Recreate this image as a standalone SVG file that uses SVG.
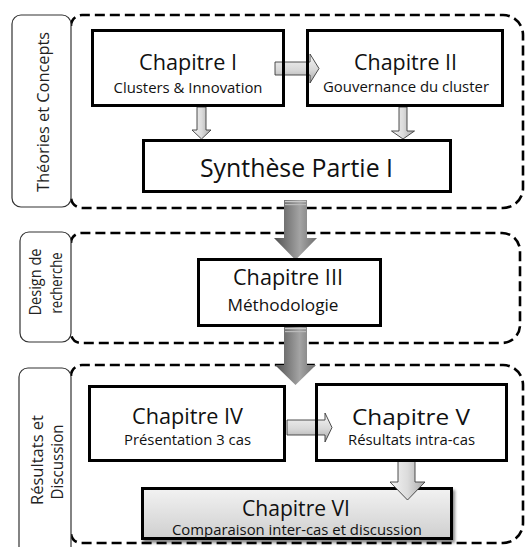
<svg xmlns="http://www.w3.org/2000/svg" width="526" height="547" viewBox="0 0 526 547">
<style>
text { font-family: "Open Sans", "Noto Sans", "DejaVu Sans", sans-serif; fill: #111; }
.t { font-size: 22px; text-anchor: middle; }
.s { font-size: 15px; text-anchor: middle; }
.lab { font-size: 16px; text-anchor: middle; fill: #222; }
.box { fill: none; stroke: #000; stroke-width: 3; }
.grp { fill: none; stroke: #000; stroke-width: 2.6; stroke-dasharray: 10 5; }
.lbox { fill: #fff; stroke: #333; stroke-width: 1.2; }
.sa { stroke: #3a3a3a; stroke-width: 0.9; stroke-linejoin: miter; }
</style>
<defs>
<linearGradient id="gv" x1="0" y1="0" x2="1" y2="0">
<stop offset="0" stop-color="#f4f4f4"/><stop offset="0.5" stop-color="#dcdcdc"/><stop offset="1" stop-color="#a8a8a8"/>
</linearGradient>
<linearGradient id="gh" x1="0" y1="0" x2="0" y2="1">
<stop offset="0" stop-color="#f6f6f6"/><stop offset="0.55" stop-color="#d8d8d8"/><stop offset="1" stop-color="#a5a5a5"/>
</linearGradient>
<linearGradient id="gbig" x1="0" y1="0" x2="1" y2="0">
<stop offset="0" stop-color="#505050"/><stop offset="0.3" stop-color="#7a7a7a"/><stop offset="0.6" stop-color="#a4a4a4"/><stop offset="1" stop-color="#6e6e6e"/>
</linearGradient>
<linearGradient id="gvi" x1="0" y1="0" x2="0" y2="1">
<stop offset="0" stop-color="#f2f2f2"/><stop offset="1" stop-color="#cfcfcf"/>
</linearGradient>
<filter id="sh" x="-10%" y="-20%" width="125%" height="150%">
<feDropShadow dx="2" dy="3" stdDeviation="1.5" flood-color="#000" flood-opacity="0.45"/>
</filter>
</defs>

<g id="group-theories">
<path class="grp" d="M71,26 A11,11 0 0 1 82,15 H503 A20,20 0 0 1 523,35 V188 A20,20 0 0 1 503,208 H82 A11,11 0 0 1 71,197"/>
<rect class="lbox" x="12" y="15" width="59" height="192" rx="9"/>
<text class="lab" transform="translate(49,112) rotate(-90)" textLength="160" lengthAdjust="spacingAndGlyphs">Théories et Concepts</text>
</g>

<g id="group-design">
<path class="grp" d="M71,243 A10,10 0 0 1 81,233 H502 A18,18 0 0 1 520,251 V325 A18,18 0 0 1 502,343 H81 A10,10 0 0 1 71,333"/>
<rect class="lbox" x="20" y="232" width="51" height="110" rx="9"/>
<text class="lab" transform="translate(41,282) rotate(-90)" textLength="67" lengthAdjust="spacingAndGlyphs">Design de</text>
<text class="lab" transform="translate(62,283) rotate(-90)" textLength="61" lengthAdjust="spacingAndGlyphs">recherche</text>
</g>

<g id="group-resultats">
<path class="grp" d="M71,376 A11,11 0 0 1 82,365 H503 A20,20 0 0 1 523,385 V523 A20,20 0 0 1 503,543 H81 A10,10 0 0 1 71,533"/>
<rect class="lbox" x="19" y="368" width="52" height="200" rx="9"/>
<text class="lab" transform="translate(43,460) rotate(-90)" textLength="90" lengthAdjust="spacingAndGlyphs">Résultats et</text>
<text class="lab" transform="translate(63,462) rotate(-90)" textLength="75" lengthAdjust="spacingAndGlyphs">Discussion</text>
</g>

<g id="chapitre-vi">
<rect x="142.5" y="488.5" width="309" height="50" fill="url(#gvi)" stroke="#000" stroke-width="3" filter="url(#sh)"/>
<text class="t" x="296" y="516" textLength="108" lengthAdjust="spacingAndGlyphs">Chapitre VI</text>
<text class="s" x="297" y="535" textLength="250" lengthAdjust="spacingAndGlyphs">Comparaison inter-cas et discussion</text>
</g>

<g id="connectors">
<polygon class="sa" fill="url(#gv)" points="197,107 206,107 206,130 211,130 201.5,139 192,130 197,130"/>
<polygon class="sa" fill="url(#gv)" points="399,107 407,107 407,131 414.5,131 403,139 391.5,131 399,131"/>
<polygon class="sa" fill="url(#gh)" points="275,62 310,62 310,54 319,68.5 310,83 310,75 275,75"/>
<polygon class="sa" fill="url(#gh)" points="287,420 325,420 325,413 332,427.5 325,442 325,435 287,435"/>
<polygon class="sa" fill="url(#gv)" points="398,460 415,460 415,482 425,482 407.5,500 390,482 398,482"/>
<polygon fill="url(#gbig)" points="284,200 307,200 307,238 317,238 295.5,260 274,238 284,238"/>
<rect x="285" y="201" width="21" height="1.2" fill="#c8c8c8"/>
<rect x="285" y="204" width="21" height="1.2" fill="#bbbbbb"/>
<polygon fill="url(#gbig)" points="284,327 307,327 307,365 316,365 295.5,385 275,365 284,365"/>
<rect x="285" y="328" width="21" height="1.2" fill="#c8c8c8"/>
<rect x="285" y="331" width="21" height="1.2" fill="#bbbbbb"/>
</g>

<g id="chapitre-i">
<rect class="box" x="92.5" y="30.5" width="191" height="75"/>
<text class="t" x="188" y="70" textLength="98" lengthAdjust="spacingAndGlyphs">Chapitre I</text>
<text class="s" x="188" y="92.5" textLength="149" lengthAdjust="spacingAndGlyphs">Clusters &amp; Innovation</text>
</g>

<g id="chapitre-ii">
<rect class="box" x="307.5" y="30.5" width="195" height="75"/>
<text class="t" x="405.5" y="70" textLength="103" lengthAdjust="spacingAndGlyphs">Chapitre II</text>
<text class="s" x="406" y="92" textLength="166" lengthAdjust="spacingAndGlyphs">Gouvernance du cluster</text>
</g>

<g id="synthese">
<rect class="box" x="143.5" y="140.5" width="307" height="51"/>
<text class="t" x="296.5" y="177" style="font-size:25px" textLength="193" lengthAdjust="spacingAndGlyphs">Synthèse Partie I</text>
</g>

<g id="chapitre-iii">
<rect class="box" x="198.5" y="259.5" width="182" height="66"/>
<text class="t" x="288" y="285" textLength="110" lengthAdjust="spacingAndGlyphs">Chapitre III</text>
<text class="s" x="283" y="311" style="font-size:16px" textLength="111" lengthAdjust="spacingAndGlyphs">Méthodologie</text>
</g>

<g id="chapitre-iv">
<rect class="box" x="89.5" y="386.5" width="195" height="74"/>
<text class="t" x="187.5" y="424" textLength="111" lengthAdjust="spacingAndGlyphs">Chapitre IV</text>
<text class="s" x="187.5" y="445" textLength="127" lengthAdjust="spacingAndGlyphs">Présentation 3 cas</text>
</g>

<g id="chapitre-v">
<rect class="box" x="316.5" y="384.5" width="190" height="76"/>
<text class="t" x="411" y="425" textLength="118" lengthAdjust="spacingAndGlyphs">Chapitre V</text>
<text class="s" x="411.5" y="445" textLength="127" lengthAdjust="spacingAndGlyphs">Résultats intra-cas</text>
</g>
</svg>
